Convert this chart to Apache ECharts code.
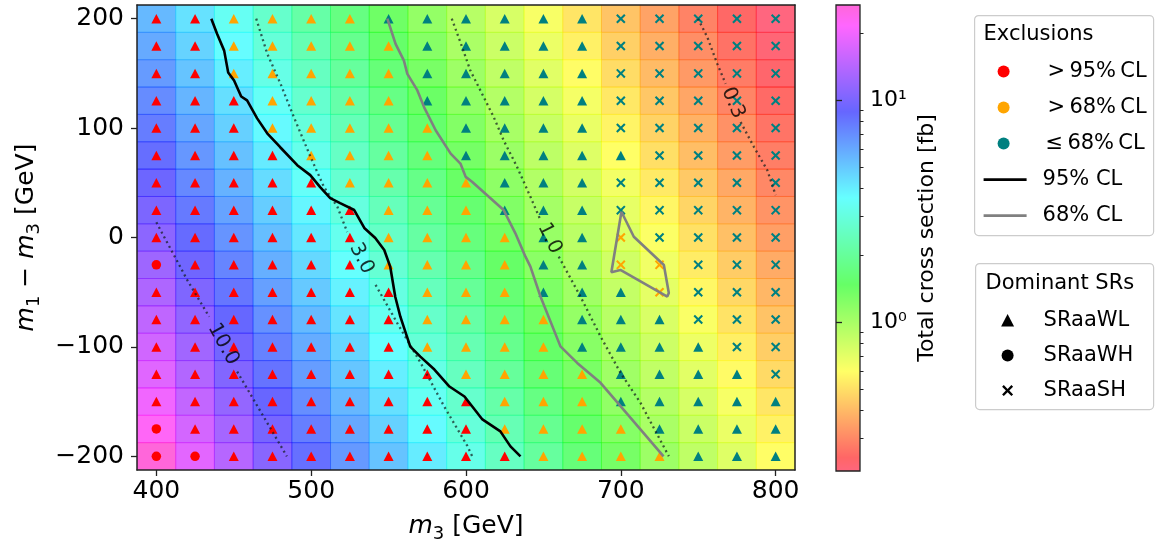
<!DOCTYPE html>
<html><head><meta charset="utf-8">
<script src="https://cdn.jsdelivr.net/npm/echarts@6/dist/echarts.min.js"></script>
<style>html,body{margin:0;padding:0;background:#fff}#c{width:1158px;height:548px}</style>
</head><body><div id="c"></div>
<script>
// ---------------- data ----------------
const m3Values = [400,425,450,475,500,525,550,575,600,625,650,675,700,725,750,775,800];
const dmValues = [200,175,150,125,100,75,50,25,0,-25,-50,-75,-100,-125,-150,-175,-200];
const xTicks = [400,500,600,700,800];
const yTicks = [-200,-100,0,100,200];

// total cross section [fb], rows follow dmValues, columns follow m3Values
const xsecRows = [
  [5.45,4.28,3.37,2.68,2.16,1.74,1.40,1.13,0.919,0.759,0.626,0.517,0.427,0.352,0.292,0.249,0.212],
  [5.94,4.67,3.67,2.90,2.33,1.88,1.51,1.22,0.985,0.813,0.671,0.554,0.457,0.378,0.312,0.264,0.225],
  [6.48,5.09,4.01,3.15,2.52,2.03,1.64,1.32,1.06,0.871,0.719,0.594,0.490,0.405,0.334,0.279,0.238],
  [7.07,5.56,4.37,3.43,2.73,2.20,1.77,1.43,1.15,0.933,0.770,0.636,0.525,0.434,0.358,0.296,0.252],
  [7.71,6.06,4.76,3.74,2.95,2.38,1.91,1.54,1.24,1.00,0.826,0.681,0.563,0.464,0.383,0.316,0.267],
  [8.41,6.61,5.20,4.08,3.21,2.57,2.07,1.67,1.34,1.08,0.885,0.730,0.603,0.498,0.411,0.339,0.283],
  [9.17,7.21,5.66,4.45,3.50,2.77,2.24,1.80,1.45,1.17,0.948,0.782,0.646,0.533,0.440,0.363,0.300],
  [10.0,7.85,6.18,4.85,3.82,3.00,2.42,1.95,1.57,1.26,1.02,0.838,0.692,0.571,0.472,0.389,0.321],
  [11.0,8.57,6.74,5.30,4.16,3.27,2.61,2.10,1.69,1.37,1.10,0.898,0.742,0.612,0.505,0.417,0.344],
  [12.2,9.35,7.35,5.78,4.54,3.57,2.82,2.27,1.83,1.48,1.19,0.962,0.795,0.656,0.541,0.447,0.369],
  [13.4,10.2,8.01,6.30,4.95,3.89,3.06,2.46,1.98,1.60,1.28,1.04,0.851,0.703,0.580,0.479,0.395],
  [14.8,11.3,8.74,6.87,5.40,4.24,3.33,2.66,2.14,1.72,1.39,1.12,0.912,0.753,0.622,0.513,0.424],
  [16.3,12.4,9.53,7.49,5.89,4.63,3.64,2.87,2.31,1.86,1.50,1.21,0.977,0.807,0.666,0.550,0.454],
  [17.9,13.7,10.4,8.17,6.42,5.05,3.97,3.12,2.50,2.01,1.62,1.31,1.05,0.864,0.714,0.589,0.486],
  [19.8,15.1,11.5,8.91,7.00,5.50,4.33,3.40,2.70,2.18,1.75,1.41,1.14,0.926,0.765,0.631,0.521],
  [22.5,16.6,12.7,9.71,7.63,6.00,4.72,3.71,2.92,2.35,1.90,1.53,1.23,0.992,0.819,0.676,0.558],
  [26.5,18.3,14.0,10.7,8.33,6.55,5.14,4.04,3.18,2.54,2.05,1.65,1.33,1.07,0.878,0.725,0.598]
];

// exclusion per point: R = >95% CL, O = >68% CL, T = <=68% CL
const exclusionRows = [
  'RROOOOTTTTTTTTTTT',
  'RROOOOOTTTTTTTTTT',
  'RROOOOOTTTTTTTTTT',
  'RRROOOOTTTTTTTTTT',
  'RRROOOOOTTTTTTTTT',
  'RRRROOOOTTTTTTTTT',
  'RRRRROOOOTTTTTTTT',
  'RRRRRROOOTTTTTTTT',
  'RRRRRROOOOTTOTTTT',
  'RRRRRROOOOTTOOTTT',
  'RRRRRRROOOTTTOTTT',
  'RRRRRRROOOOTTTTTT',
  'RRRRRRROOOOTTTTTT',
  'RRRRRRRROOOOTTTTT',
  'RRRRRRRRROOOTTTTT',
  'RRRRRRRRROOOOTTTT',
  'RRRRRRRRRROOOOTTT'
];

// dominant signal region: L = SRaaWL, H = SRaaWH, S = SRaaSH
const srRows = [
  'LLLLLLLLLLLLSSSSS',
  'LLLLLLLLLLLLSSSSS',
  'LLLLLLLLLLLLSSSSS',
  'LLLLLLLLLLLLSSSSS',
  'LLLLLLLLLLLLSSSSS',
  'LLLLLLLLLLLLLSSSS',
  'LLLLLLLLLLLLSSSSS',
  'LLLLLLLLLLLLSSSSS',
  'LLLLLLLLLLLLSSSSS',
  'HLLLLLLLLLLLSSSSS',
  'LLLLLLLLLLLLLSSSS',
  'LLLLLLLLLLLLLLSSS',
  'LLLLLLLLLLLLLLLSS',
  'LLLLLLLLLLLLLLLLS',
  'LLLLLLLLLLLLLLLLL',
  'HLLLLLLLLLLLLLLLL',
  'HHLLLLLLLLLLLLLLL'
];

// exclusion contours [m3, m1-m3]
const cl95Curve = [[435.5,200],[439.2,186.3],[443.8,170.8],[446.4,150.8],[450.2,143.5],[454.8,128.9],[458.6,125.3],[465.1,108.9],[471.6,95.2],[480.0,82.5],[491.0,66.1],[499.4,57.0],[505.8,46.0],[512.3,36.0],[518.7,31.4],[527.8,25.1],[534.3,8.7],[541.4,-0.5],[547.2,-11.4],[551.1,-26.9],[554.3,-54.2],[557.6,-72.4],[564.0,-99.8],[570.5,-108.9],[579.6,-120.7],[589.3,-136.2],[599.0,-145.3],[610.6,-166.3],[622.2,-177.2],[628.7,-190.9],[635.2,-200]];
const cl68Curve = [[549.2,200],[554.5,176.9],[559.9,161.7],[562.1,149.6],[568.6,134.4],[572.9,119.2],[580.4,98.0],[590.1,76.7],[596.4,67.6],[599.8,55.4],[603.9,51.0],[624.3,25.1],[631.9,3.8],[638.4,-17.5],[641.6,-26.6],[648.1,-53.9],[661.0,-99.5],[671.8,-114.6],[686.9,-132.8],[699.8,-154.2],[727.6,-200]];
const cl68Island = [[700.4,23.5],[693.9,-31.7],[699.7,-29.6],[730.0,-54.0],[731.0,-50.8],[727.8,-25.1],[708.4,0.7],[700.4,23.5]];

// cross-section contours (split where the inline label sits)
const xs10Upper = [[400,14],[403.7,4.1],[419.9,-38.7],[434.1,-72.4]];
const xs10Lower = [[452.2,-122.6],[484.3,-200]];
const xs3Upper = [[464.5,200],[471.6,168.1],[480.2,140.5],[488.8,110.1],[499.6,73.6],[508.2,46.3],[516.9,28.1],[523.3,5.0]];
const xs3Lower = [[541.6,-43.3],[555.6,-78.2],[570.7,-114.6],[585.8,-154.2],[600.9,-190.6],[604,-200]];
const xs1Upper = [[590.8,200],[596.4,178.4],[602.8,152.6],[609.3,134.4],[617.9,110.1],[624.3,88.8],[633.0,64.5],[641.6,37.2],[648.1,16.0]];
const xs1Lower = [[659.9,-17.5],[673.9,-53.9],[686.9,-90.4],[699.8,-123.7],[712.7,-151.1],[731.0,-200]];
const xs03Upper = [[749.8,200],[755.9,183.0],[762.3,158.7],[767.7,140.5]];
const xs03Lower = [[777.4,105.5],[786.0,82.7],[794.6,61.5],[800,38.7]];
const contourLabelText = ['10.0','3.0','1.0','0.3'];
const contourLabelAt = [[443.2,-97.5],[532.5,-19.2],[654.0,-0.8],[772.5,123.0]];
const contourLabelAngle = [-61,-63,-64,-67];

const cbMin = 0.213, cbMax = 26.8;
const cbMajor = [1,10];
const cbMinor = [0.3,0.4,0.5,0.6,0.7,0.8,0.9,2,3,4,5,6,7,8,9,20];

// ---------------- styling helpers ----------------
const FONT = 'DejaVu Sans';
const CMAP = [[0,[255,0,41]],[0.03,[255,0,0]],[0.215,[255,255,0]],[0.4,[0,255,0]],[0.586,[0,255,255]],[0.77,[0,0,255]],[0.954,[255,0,255]],[1,[255,0,191]]];
const ALPHA = 0.6;
function cmapRGB(t){
  t = Math.max(0, Math.min(1, t));
  for (let i = 1; i < CMAP.length; i++) {
    if (t <= CMAP[i][0]) {
      const [t0,c0] = CMAP[i-1], [t1,c1] = CMAP[i];
      const f = (t - t0) / (t1 - t0);
      return c0.map((v,k) => Math.round(v + (c1[k]-v)*f));
    }
  }
  return CMAP[CMAP.length-1][1];
}
const lmin = Math.log10(cbMin), lmax = Math.log10(cbMax);
function colorFor(v){
  const c = cmapRGB((Math.log10(v) - lmin) / (lmax - lmin));
  return 'rgba(' + c.join(',') + ',' + ALPHA + ')';
}
const EXCL_COLOR = {R:'#ff0000', O:'#ffa500', T:'#008080'};
const CROSS = 'path://M0,1.7L1.7,0L5.5,3.8L9.3,0L11,1.7L7.2,5.5L11,9.3L9.3,11L5.5,7.2L1.7,11L0,9.3L3.8,5.5Z';

// ---------------- build series data ----------------
const cells = [];
const markers = {L:[], H:[], S:[]};
dmValues.forEach((dm, i) => {
  m3Values.forEach((m3, j) => {
    cells.push([m3, dm, xsecRows[i][j]]);
    markers[srRows[i][j]].push({value:[m3, dm], itemStyle:{color: EXCL_COLOR[exclusionRows[i][j]], opacity:1}});
  });
});

const chart = echarts.init(document.getElementById('c'), null, {renderer:'canvas'});

function lineSeries(data, style){
  return {type:'line', xAxisIndex:0, yAxisIndex:0, data, symbol:'none', showSymbol:false, silent:true,
    z:6, lineStyle:style, clip:false};
}
const dotStyle = {color:'rgba(20,30,30,0.72)', width:2.3, type:[2,3.4], cap:'butt'};
const cbGradient = new echarts.graphic.LinearGradient(0,1,0,0,
  CMAP.map(([o,c]) => ({offset:o, color:'rgba(' + c.join(',') + ',' + ALPHA + ')'})));

const txt = (x,y,text,size,extra) => Object.assign({type:'text', x, y, style:{text, fontSize:size||21, fontFamily:FONT, fill:'#000', verticalAlign:'middle', align:'left'}}, extra||{});
function crossPoly(cx,cy,h,d){
  const p = [[-h,-h+d],[-h+d,-h],[0,-d],[h-d,-h],[h,-h+d],[d,0],[h,h-d],[h-d,h],[0,d],[-h+d,h],[-h,h-d],[-d,0]];
  return p.map(([a,b]) => [cx+a, cy+b]);
}
const mathRich = {
  n:{fontSize:25, fontFamily:FONT, color:'#000', padding:[0,0,4,0], verticalAlign:'bottom'},
  i:{fontSize:25, fontFamily:FONT, color:'#000', fontStyle:'italic', padding:[0,0,4,0], verticalAlign:'bottom'},
  s:{fontSize:18, fontFamily:FONT, color:'#000', verticalAlign:'bottom'}
};

const axisLineStyle = {color:'#222', width:1.5};
const option = {
  animation:false,
  backgroundColor:'#fff',
  textStyle:{fontFamily:FONT},
  grid:[
    {left:137, top:5, width:658, height:466, containLabel:false},
    {left:836, top:5, width:24, height:466, containLabel:false}
  ],
  xAxis:[
    {gridIndex:0, type:'value', min:387.5, max:812.5, position:'bottom', z:10,
      axisLine:{show:true, onZero:false, lineStyle:axisLineStyle},
      axisTick:{show:true, customValues:xTicks, length:6, lineStyle:{color:'#222', width:1.3}},
      axisLabel:{customValues:xTicks, fontSize:25, color:'#000', fontFamily:FONT, margin:9},
      splitLine:{show:false},
      name:'{i|m}{s|3}{n| [GeV]}', nameLocation:'middle', nameGap:44,
      nameTextStyle:{fontSize:25, color:'#000', fontFamily:FONT, rich:mathRich}},
    {gridIndex:0, type:'value', min:387.5, max:812.5, position:'top', z:10,
      axisLine:{show:true, onZero:false, lineStyle:axisLineStyle},
      axisTick:{show:false}, axisLabel:{show:false}, splitLine:{show:false}},
    {gridIndex:1, type:'value', min:0, max:1, show:false}
  ],
  yAxis:[
    {gridIndex:0, type:'value', min:-212.5, max:212.5, position:'left', z:10,
      axisLine:{show:true, onZero:false, lineStyle:axisLineStyle},
      axisTick:{show:true, customValues:yTicks, length:6, lineStyle:{color:'#222', width:1.3}},
      axisLabel:{customValues:yTicks, fontSize:25, color:'#000', fontFamily:FONT, margin:13,
        formatter: v => v < 0 ? '\u2212' + Math.abs(v) : String(v)},
      splitLine:{show:false},
      name:'{i|m}{s|1}{n| \u2212 }{i|m}{s|3}{n| [GeV]}', nameLocation:'middle', nameRotate:90, nameGap:94,
      nameTextStyle:{fontSize:25, color:'#000', fontFamily:FONT, rich:mathRich}},
    {gridIndex:0, type:'value', min:-212.5, max:212.5, position:'right', z:10,
      axisLine:{show:true, onZero:false, lineStyle:axisLineStyle},
      axisTick:{show:false}, axisLabel:{show:false}, splitLine:{show:false}},
    {gridIndex:1, type:'log', logBase:10, min:cbMin, max:cbMax, position:'right', z:10,
      axisLine:{show:false},
      axisTick:{show:true, customValues:cbMajor, length:6, lineStyle:{color:'#222', width:1.3}},
      axisLabel:{customValues:cbMajor, fontSize:22, color:'#000', fontFamily:FONT, margin:10,
        formatter: v => Math.abs(v-1) < 1e-6 ? '10\u2070' : (Math.abs(v-10) < 1e-6 ? '10\u00b9' : '')},
      splitLine:{show:false},
      name:'Total cross section [fb]', nameLocation:'middle', nameRotate:90, nameGap:56,
      nameTextStyle:{fontSize:22, color:'#000', fontFamily:FONT}},
    {gridIndex:1, type:'log', logBase:10, min:cbMin, max:cbMax, position:'right', z:10,
      axisLine:{show:false},
      axisTick:{show:true, customValues:cbMinor, length:3.5, lineStyle:{color:'#222', width:1}},
      axisLabel:{show:false}, splitLine:{show:false}}
  ],
  series:[
    {type:'custom', xAxisIndex:0, yAxisIndex:0, data:cells, encode:{x:0, y:1}, clip:true, silent:true, z:1,
      renderItem(params, api){
        const x = api.value(0), y = api.value(1), v = api.value(2);
        const p1 = api.coord([x-12.5, y+12.5]), p2 = api.coord([x+12.5, y-12.5]);
        const c = colorFor(v);
        return {type:'rect', shape:{x:p1[0], y:p1[1], width:p2[0]-p1[0], height:p2[1]-p1[1]},
          style:{fill:c, stroke:c, lineWidth:0.6}};
      }},
    {type:'scatter', name:'SRaaWL', xAxisIndex:0, yAxisIndex:0, data:markers.L, symbol:'triangle', symbolSize:[10,9.5], z:4, silent:true, itemStyle:{opacity:1}},
    {type:'scatter', name:'SRaaWH', xAxisIndex:0, yAxisIndex:0, data:markers.H, symbol:'circle', symbolSize:9.5, z:4, silent:true, itemStyle:{opacity:1}},
    {type:'scatter', name:'SRaaSH', xAxisIndex:0, yAxisIndex:0, data:markers.S, symbol:CROSS, symbolSize:9.5, z:4, silent:true, itemStyle:{opacity:1}},
    lineSeries(xs10Upper, dotStyle), lineSeries(xs10Lower, dotStyle),
    lineSeries(xs3Upper, dotStyle), lineSeries(xs3Lower, dotStyle),
    lineSeries(xs1Upper, dotStyle), lineSeries(xs1Lower, dotStyle),
    lineSeries(xs03Upper, dotStyle), lineSeries(xs03Lower, dotStyle),
    lineSeries(cl95Curve, {color:'#000', width:2.6}),
    lineSeries(cl68Curve, {color:'#808080', width:2.6}),
    lineSeries(cl68Island, {color:'#808080', width:2.6}),
    {type:'scatter', xAxisIndex:0, yAxisIndex:0, symbolSize:0, silent:true, z:7,
      data: contourLabelAt.map((p,k) => ({value:p, label:{show:true, formatter:contourLabelText[k], rotate:contourLabelAngle[k],
        position:'inside', fontSize:20, color:'#000', fontFamily:FONT}}))},
    {type:'custom', xAxisIndex:2, yAxisIndex:2, data:[[0,1]], silent:true, z:2,
      renderItem(params, api){
        const p1 = api.coord([0, cbMax]), p2 = api.coord([1, cbMin]);
        return {type:'rect', shape:{x:p1[0], y:p1[1], width:p2[0]-p1[0], height:p2[1]-p1[1]},
          style:{fill:cbGradient, stroke:'#222', lineWidth:1.3}};
      }}
  ],
  graphic:[
    {type:'group', left:974, top:15, children:[
      {type:'rect', shape:{x:0, y:0, width:179, height:220, r:4}, style:{fill:'#fff', stroke:'#cccccc', lineWidth:1.2}},
      txt(9, 19, 'Exclusions'),
      {type:'circle', shape:{cx:29, cy:56, r:6}, style:{fill:'#ff0000'}},
      {type:'circle', shape:{cx:29, cy:92, r:6}, style:{fill:'#ffa500'}},
      {type:'circle', shape:{cx:29, cy:128, r:6}, style:{fill:'#008080'}},
      txt(73, 56, '>\u200995%\u2009CL'),
      txt(73, 92, '>\u200968%\u2009CL'),
      txt(71, 128, '\u2264\u200968%\u2009CL'),
      {type:'line', shape:{x1:9, y1:164, x2:52, y2:164}, style:{stroke:'#000', lineWidth:2.6}},
      {type:'line', shape:{x1:9, y1:200, x2:52, y2:200}, style:{stroke:'#808080', lineWidth:2.6}},
      txt(68, 164, '95% CL'),
      txt(68, 200, '68% CL')
    ]},
    {type:'group', left:975, top:263, children:[
      {type:'rect', shape:{x:0, y:0, width:178, height:146, r:4}, style:{fill:'#fff', stroke:'#cccccc', lineWidth:1.2}},
      txt(10, 20, 'Dominant SRs'),
      {type:'polygon', shape:{points:[[32,50.5],[25.5,63],[38.5,63]]}, style:{fill:'#000'}},
      {type:'circle', shape:{cx:32, cy:92, r:6}, style:{fill:'#000'}},
      {type:'polygon', shape:{points:crossPoly(32,127,5.5,1.7)}, style:{fill:'#000'}},
      txt(68, 57, 'SRaaWL'),
      txt(68, 92, 'SRaaWH'),
      txt(68, 127, 'SRaaSH')
    ]}
  ]
};
chart.setOption(option);
</script></body></html>
